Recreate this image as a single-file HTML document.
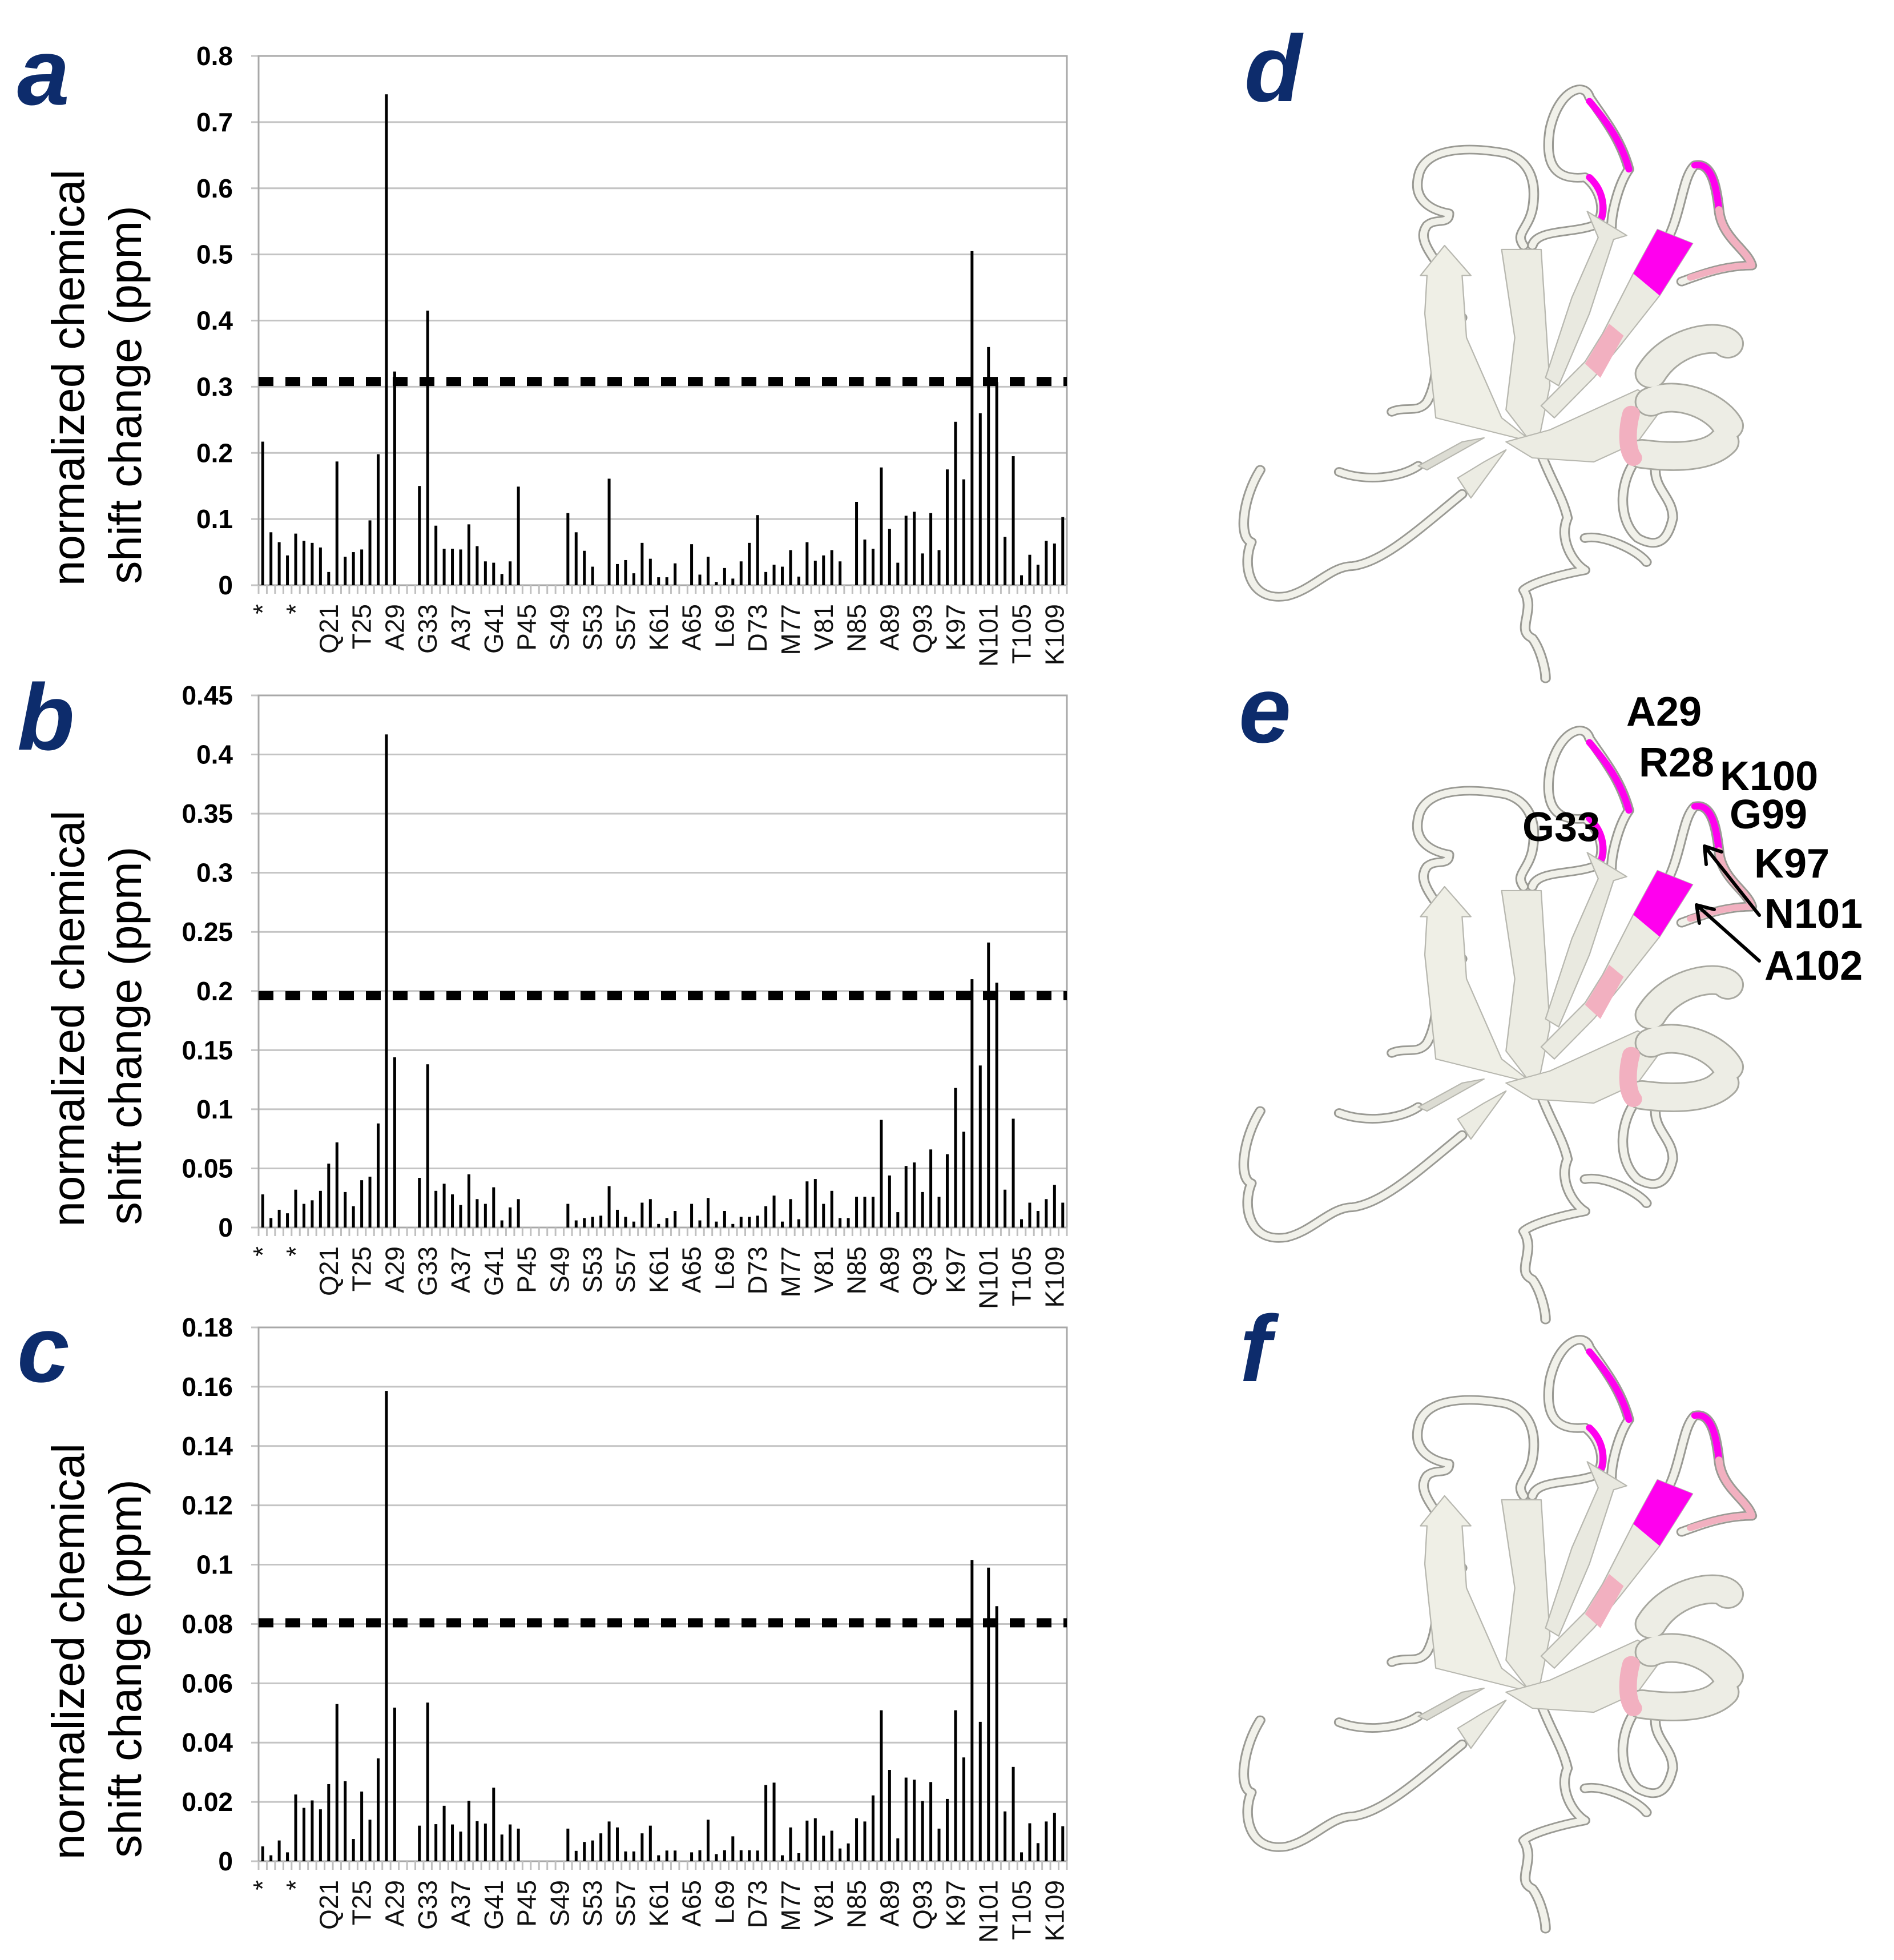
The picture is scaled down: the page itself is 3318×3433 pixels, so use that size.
<!DOCTYPE html>
<html><head><meta charset="utf-8"><style>
html,body{margin:0;padding:0;background:#fff}
svg{display:block}
text{font-family:"Liberation Sans",Arial,sans-serif}
</style></head><body>
<svg id="fig" width="3318" height="3433" viewBox="0 0 3318 3433" xmlns="http://www.w3.org/2000/svg">
<defs>
<g id="protein">
  <!-- tubes (outline then fill) -->
  <g fill="none" stroke-linecap="round" stroke-linejoin="round">
    <g stroke="#9a9a94" stroke-width="24">
      <path d="M140,1030 C100,1100 90,1200 120,1210 C100,1260 110,1360 200,1345 C260,1330 300,1270 350,1270 C420,1260 500,1180 600,1090"/>
      <path d="M320,1035 C380,1060 460,1050 500,1020"/>
      <path d="M440,885 C470,870 500,890 520,860 C560,780 520,700 600,650"/>
      <path d="M560,540 C520,480 500,450 520,420 C540,400 570,420 570,390 C520,380 490,350 500,300 C510,230 600,220 700,240 C760,260 770,320 760,380 C750,430 720,440 740,470"/>
      <path d="M760,470 C770,430 850,440 900,420 C930,400 920,330 880,300 C800,310 790,250 800,180 C820,80 880,60 890,100 C920,150 960,200 980,280 C960,310 940,380 940,430"/>
      <path d="M1060,470 C1100,400 1100,300 1130,270 C1170,260 1180,330 1185,380 C1190,450 1250,480 1260,520 C1200,520 1150,540 1100,560"/>
      <path d="M780,990 C800,1050 830,1100 840,1150 C820,1200 850,1260 880,1280 C830,1290 760,1310 740,1330 C770,1380 720,1430 760,1450 C780,1480 790,1530 790,1550"/>
      <path d="M1000,1000 C960,1050 950,1150 1000,1200 C1050,1230 1070,1200 1080,1150 C1080,1100 1040,1080 1040,1030"/>
      <path d="M880,1200 C920,1190 1000,1230 1020,1260"/>
    </g>
    <g stroke="#f1f1ea" stroke-width="16">
      <path d="M140,1030 C100,1100 90,1200 120,1210 C100,1260 110,1360 200,1345 C260,1330 300,1270 350,1270 C420,1260 500,1180 600,1090"/>
      <path d="M320,1035 C380,1060 460,1050 500,1020"/>
      <path d="M440,885 C470,870 500,890 520,860 C560,780 520,700 600,650"/>
      <path d="M560,540 C520,480 500,450 520,420 C540,400 570,420 570,390 C520,380 490,350 500,300 C510,230 600,220 700,240 C760,260 770,320 760,380 C750,430 720,440 740,470"/>
      <path d="M760,470 C770,430 850,440 900,420 C930,400 920,330 880,300 C800,310 790,250 800,180 C820,80 880,60 890,100 C920,150 960,200 980,280 C960,310 940,380 940,430"/>
      <path d="M1060,470 C1100,400 1100,300 1130,270 C1170,260 1180,330 1185,380 C1190,450 1250,480 1260,520 C1200,520 1150,540 1100,560"/>
      <path d="M780,990 C800,1050 830,1100 840,1150 C820,1200 850,1260 880,1280 C830,1290 760,1310 740,1330 C770,1380 720,1430 760,1450 C780,1480 790,1530 790,1550"/>
      <path d="M1000,1000 C960,1050 950,1150 1000,1200 C1050,1230 1070,1200 1080,1150 C1080,1100 1040,1080 1040,1030"/>
      <path d="M880,1200 C920,1190 1000,1230 1020,1260"/>
    </g>
    <g stroke="#ff00ee" stroke-width="16">
      <path d="M890,110 C920,150 960,200 980,280"/>
      <path d="M890,300 C920,330 925,370 918,400"/>
      <path d="M1130,270 C1170,260 1180,330 1185,380"/>
    </g>
    <g stroke="#f2b0c0" stroke-width="16">
      <path d="M1185,380 C1190,450 1250,480 1260,520 C1200,520 1150,540 1120,550"/>
    </g>
  </g>
  <!-- sheets -->
  <g stroke="#b8b8b0" stroke-width="3" stroke-linejoin="round">
    <polygon fill="#efefe6" points="540,900 515,640 520,545 505,545 560,470 620,545 600,545 610,700 690,900 760,960"/>
    <polygon fill="#ecece3" points="690,480 780,480 800,820 770,980 700,880 720,700"/>
    <polygon fill="#e9e9e0" points="885,385 975,445 945,455 890,640 820,820 790,800 850,600 910,450"/>
    <polygon fill="#ebebe2" points="1045,430 1125,465 1050,595 960,720 900,800 810,900 780,870 880,760 920,690 990,540"/>
    <polygon fill="#ff00ee" stroke="none" points="1045,430 1125,465 1050,595 990,540"/>
    <polygon fill="#f2b0c0" stroke="none" points="935,665 968,695 915,800 880,765"/>
    <polygon fill="#ecece3" points="700,960 800,930 900,880 1000,830 1060,870 1000,960 900,1010 760,1000"/>
    <polygon fill="#dcdcd3" points="500,1020 600,960 650,950 520,1030"/>
    <polygon fill="#ecece3" points="590,1050 650,1010 700,980 620,1100"/>
  </g>
  <g fill="none" stroke-linecap="round">
    <g stroke="#a8a8a0" stroke-width="74">
      <path d="M1030,790 C1080,700 1190,690 1205,715"/>
      <path d="M1030,860 C1090,830 1180,870 1205,920"/>
      <path d="M1010,990 C1080,1000 1160,1000 1195,960"/>
    </g>
    <g stroke="#ededE5" stroke-width="66">
      <path d="M1030,790 C1080,700 1190,690 1205,715"/>
      <path d="M1030,860 C1090,830 1180,870 1205,920"/>
      <path d="M1010,990 C1080,1000 1160,1000 1195,960"/>
    </g>
    <path d="M985,890 C975,930 975,980 990,1000" stroke="#f2b0c0" stroke-width="40"/>
  </g>
</g>
</defs>

<!-- panel letters -->
<text x="30" y="183" font-size="165" font-weight="bold" font-style="italic" fill="#0d2c6c">a</text>
<text x="30" y="1313" font-size="165" font-weight="bold" font-style="italic" fill="#0d2c6c">b</text>
<text x="30" y="2420" font-size="165" font-weight="bold" font-style="italic" fill="#0d2c6c">c</text>
<text x="2180" y="177" font-size="165" font-weight="bold" font-style="italic" fill="#0d2c6c">d</text>
<text x="2170" y="1300" font-size="165" font-weight="bold" font-style="italic" fill="#0d2c6c">e</text>
<text x="2172" y="2419" font-size="165" font-weight="bold" font-style="italic" fill="#0d2c6c">f</text>

<g id="charts"></g>

<!-- structures -->
<g transform="translate(2100,100) scale(0.769,0.702)"><use href="#protein"/></g>
<g transform="translate(2100,1223) scale(0.769,0.702)"><use href="#protein"/></g>
<g transform="translate(2100,2290) scale(0.769,0.702)"><use href="#protein"/></g>

<g font-size="72" font-weight="bold" fill="#000">
  <text x="2849" y="1271">A29</text>
  <text x="2871" y="1360">R28</text>
  <text x="3013" y="1384">K100</text>
  <text x="3030" y="1451">G99</text>
  <text x="2667" y="1473">G33</text>
  <text x="3073" y="1537">K97</text>
  <text x="3091" y="1625">N101</text>
  <text x="3091" y="1716">A102</text>
</g>
<g stroke="#000" stroke-width="6" fill="none" stroke-linecap="round" stroke-linejoin="round">
  <path d="M3082,1603 L2986,1482 M2986,1482 l3,32 M2986,1482 l30,10"/>
  <path d="M3082,1683 L2972,1585 M2972,1585 l5,32 M2972,1585 l31,8"/>
</g>
</svg>
<script>
const residueLabels = ["*","*","Q21","T25","A29","G33","A37","G41","P45","S49","S53","S57","K61","A65","L69","D73","M77","V81","N85","A89","Q93","K97","N101","T105","K109"];
const valuesA = [0.217,0.08,0.065,0.045,0.078,0.067,0.064,0.057,0.02,0.187,0.043,0.05,0.054,0.098,0.198,0.742,0.323,0,0,0.15,0.415,0.09,0.055,0.055,0.054,0.092,0.059,0.036,0.034,0.017,0.036,0.149,0,0,0,0,0,0.109,0.08,0.052,0.028,0,0.161,0.032,0.038,0.018,0.064,0.04,0.012,0.012,0.033,0,0.062,0.016,0.043,0.005,0.026,0.01,0.036,0.064,0.106,0.02,0.031,0.028,0.053,0.013,0.065,0.037,0.045,0.053,0.036,0,0.126,0.069,0.055,0.178,0.085,0.034,0.105,0.111,0.048,0.109,0.053,0.175,0.247,0.16,0.505,0.26,0.36,0.307,0.073,0.195,0.015,0.046,0.031,0.067,0.063,0.103];
const valuesB = [0.028,0.008,0.015,0.012,0.032,0.02,0.023,0.031,0.054,0.072,0.03,0.018,0.04,0.043,0.088,0.417,0.144,0,0,0.042,0.138,0.031,0.037,0.028,0.019,0.045,0.024,0.02,0.034,0.006,0.017,0.024,0,0,0,0,0,0.02,0.006,0.008,0.009,0.01,0.035,0.015,0.009,0.005,0.021,0.024,0.003,0.008,0.014,0,0.02,0.006,0.025,0.005,0.014,0.003,0.009,0.009,0.01,0.018,0.027,0.005,0.024,0.007,0.039,0.041,0.02,0.031,0.008,0.008,0.026,0.026,0.026,0.091,0.044,0.013,0.052,0.055,0.03,0.066,0.026,0.062,0.118,0.081,0.21,0.137,0.241,0.207,0.032,0.092,0.007,0.021,0.014,0.024,0.036,0.021];
const valuesC = [0.005,0.002,0.007,0.003,0.0225,0.018,0.0205,0.0175,0.026,0.053,0.027,0.0075,0.0235,0.014,0.0347,0.1586,0.0518,0,0,0.012,0.0535,0.0125,0.0187,0.0124,0.01,0.0204,0.0135,0.0127,0.0248,0.009,0.0124,0.011,0,0,0,0,0,0.011,0.0035,0.0065,0.007,0.0094,0.0134,0.0114,0.0033,0.0033,0.0094,0.012,0.002,0.0036,0.0036,0,0.003,0.0037,0.014,0.0024,0.0037,0.0084,0.0037,0.0037,0.0036,0.0257,0.0265,0.002,0.0114,0.0027,0.0137,0.0145,0.0086,0.0103,0.0043,0.006,0.0145,0.0134,0.0222,0.0509,0.0308,0.0077,0.0282,0.0275,0.0203,0.0267,0.011,0.021,0.0509,0.035,0.1016,0.047,0.099,0.086,0.0168,0.0318,0.003,0.0128,0.0061,0.0134,0.0163,0.0118];
const ticksA = [0,0.1,0.2,0.3,0.4,0.5,0.6,0.7,0.8];
const ticksB = [0,0.05,0.1,0.15,0.2,0.25,0.3,0.35,0.4,0.45];
const ticksC = [0,0.02,0.04,0.06,0.08,0.1,0.12,0.14,0.16,0.18];
const tickTextA = ["0","0.1","0.2","0.3","0.4","0.5","0.6","0.7","0.8"];
const tickTextB = ["0","0.05","0.1","0.15","0.2","0.25","0.3","0.35","0.4","0.45"];
const tickTextC = ["0","0.02","0.04","0.06","0.08","0.1","0.12","0.14","0.16","0.18"];
const thresholds = [0.308, 0.196, 0.0804];

const NS = "http://www.w3.org/2000/svg";
const root = document.getElementById("charts");
function mk(tag, attrs, parent) {
  const e = document.createElementNS(NS, tag);
  for (const k in attrs) e.setAttribute(k, attrs[k]);
  parent.appendChild(e);
  return e;
}
function drawChart(key, values, ticks, tickText, thr, top, bottom) {
  const L = 453, R = 1869;
  const n = values.length;
  const band = (R - L) / n;
  const ymax = ticks[ticks.length - 1];
  const xs = i => L + band * (i + 0.5);
  const ys = v => bottom - (v / ymax) * (bottom - top);
  const g = mk("g", {}, root);
  
  
  // gridlines + y ticks
  ticks.forEach((t, k) => {
    const y = ys(t);
    const gl = mk("line", {x1: 440, x2: R, y1: y, y2: y, stroke: "#c4c4c4", "stroke-width": 3}, g);
    
    
    const tx = mk("text", {x: 408, y: y + 16, "text-anchor": "end", "font-size": 46, "font-weight": "bold", fill: "#000"}, g);
    tx.textContent = tickText[k];
    
    
  });
  // frame
  const fr = mk("rect", {x: L, y: top, width: R - L, height: bottom - top, fill: "none", stroke: "#a8a8a8", "stroke-width": 3}, g);
  
  
  // minor x ticks
  for (let i = 0; i <= n; i++) {
    const x = L + band * i;
    const tk = mk("line", {x1: x, x2: x, y1: bottom, y2: bottom + 15, stroke: "#c0c0c0", "stroke-width": 3}, g);
    
    
  }
  // bars
  values.forEach((v, i) => {
    if (v <= 0) return;
    const b = mk("rect", {x: xs(i) - 2.5, y: ys(v), width: 5, height: bottom - ys(v), fill: "#000"}, g);
    
    
  });
  // threshold
  const th = mk("line", {x1: L, x2: R, y1: ys(thr), y2: ys(thr), stroke: "#000", "stroke-width": 16, "stroke-dasharray": "26 21"}, g);
  
  
  // x labels
  residueLabels.forEach((lab, k) => {
    const i = k * 4;
    const x = xs(i);
    const y0 = bottom + 33;
    const t = mk("text", {x: 0, y: 0, "text-anchor": "end", "font-size": 46, fill: "#111",
      transform: "translate(" + (x + 16) + "," + y0 + ") rotate(-90)"}, g);
    t.textContent = lab;
    
    
  });
  // y axis title
  const mid = (top + bottom) / 2 + 100;
  const t1 = mk("text", {x: 0, y: 0, "text-anchor": "middle", "font-size": 80, fill: "#000",
    transform: "translate(147," + mid + ") rotate(-90)"}, g);
  t1.textContent = "normalized chemical";
  
  
  const t2 = mk("text", {x: 0, y: 0, "text-anchor": "middle", "font-size": 80, fill: "#000",
    transform: "translate(247," + (mid + 30) + ") rotate(-90)"}, g);
  t2.textContent = "shift change (ppm)";
  
  
}
drawChart("a", valuesA, ticksA, tickTextA, thresholds[0], 98, 1025);
drawChart("b", valuesB, ticksB, tickTextB, thresholds[1], 1218, 2150);
drawChart("c", valuesC, ticksC, tickTextC, thresholds[2], 2325, 3260);
</script>
</body></html>
